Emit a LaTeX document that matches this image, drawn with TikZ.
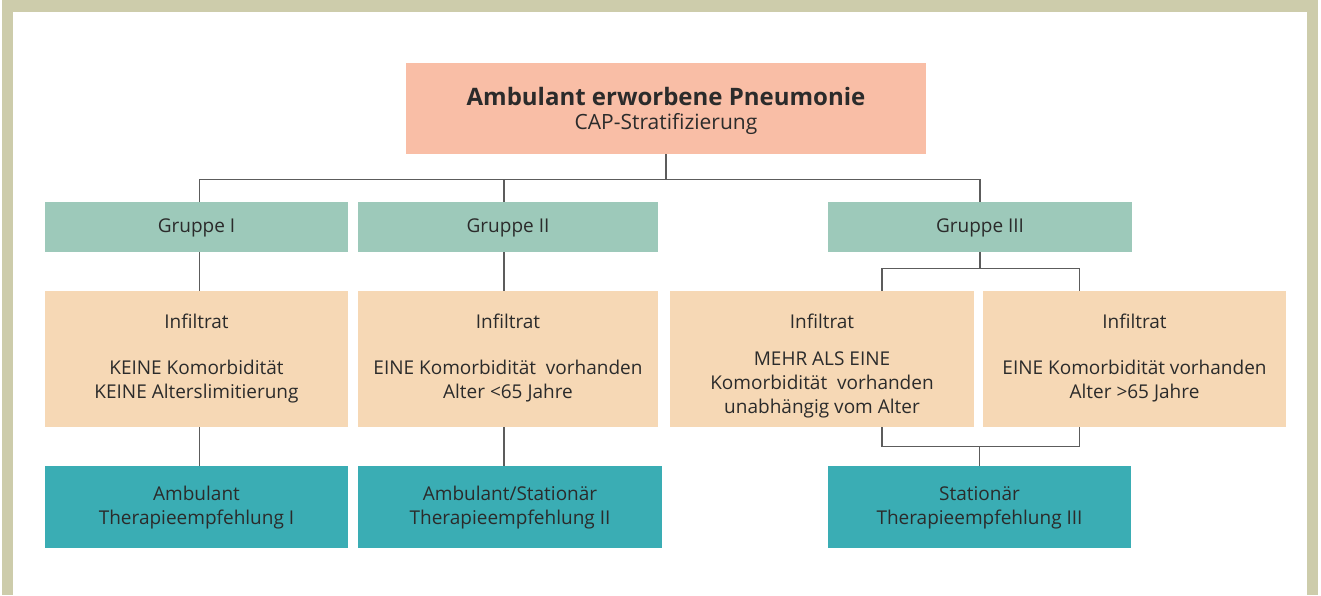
\documentclass[tikz,border=0pt]{standalone}
\usepackage{fontspec}
\setmainfont{Open Sans}
\usetikzlibrary{positioning,calc}
\definecolor{rahmen}{HTML}{CDCCAB}
\definecolor{kopffarbe}{HTML}{F9BEA6}
\definecolor{gruppenfarbe}{HTML}{9DC9BA}
\definecolor{befundfarbe}{HTML}{F6D8B5}
\definecolor{therapiefarbe}{HTML}{3AADB4}
\definecolor{schrift}{HTML}{2B2B2B}
\definecolor{linie}{HTML}{5C5C5C}
\newcommand{\hoch}[1]{\rule{0pt}{#1}}
\newcommand{\tief}[1]{\rule[-#1]{0pt}{#1}}
\tikzset{
  feld/.style={inner sep=0pt,align=center,text=schrift,font=\fontsize{19}{24}\selectfont},
  kopf/.style={feld,fill=kopffarbe,minimum width=520pt,minimum height=91pt},
  gruppe/.style={feld,fill=gruppenfarbe,minimum height=50pt},
  befund/.style={feld,fill=befundfarbe,minimum height=136pt},
  therapie/.style={feld,fill=therapiefarbe,minimum height=82pt},
  verbindung/.style={draw=linie,line width=1.1pt}
}

\begin{document}
\begin{tikzpicture}[x=1pt,y=-1pt]
	\useasboundingbox (0,0) rectangle (1321,595);
	\fill[rahmen] (2,0) rectangle (1318,12);
	\fill[rahmen] (2,0) rectangle (13,595);
	\fill[rahmen] (1307,0) rectangle (1318,595);

	\node[kopf] (kopf) at (666,108.5) {\hoch{24pt}{\fontsize{24}{24}\selectfont\bfseries Ambulant erworbene Pneumonie}\\{\fontsize{21}{24}\selectfont CAP-Stratifizierung}\tief{5pt}};

	\node[gruppe,minimum width=303pt] (g1) at (196.5,227) {\hoch{16pt}Gruppe I\tief{4pt}};
	\node[gruppe,minimum width=300pt] (g2) at (508,227) {\hoch{16pt}Gruppe II\tief{4pt}};
	\node[gruppe,minimum width=304pt] (g3) at (980,227) {\hoch{16pt}Gruppe III\tief{4pt}};

	\node[befund,minimum width=303pt] (b1) at (196.5,359) {\hoch{18pt}Infiltrat\\[22pt]KEINE Komorbidität\\KEINE Alterslimitierung\tief{10pt}};
	\node[befund,minimum width=300pt] (b2) at (508,359) {\hoch{18pt}Infiltrat\\[22pt]EINE Komorbidität\ \ vorhanden\\Alter <65 Jahre\tief{10pt}};
	\node[befund,minimum width=304pt] (b3) at (822,359) {\hoch{30pt}Infiltrat\\[13pt]MEHR ALS EINE\\Komorbidität\ \ vorhanden\\unabhängig vom Alter\tief{7pt}};
	\node[befund,minimum width=303pt] (b4) at (1134.5,359) {\hoch{18pt}Infiltrat\\[22pt]EINE Komorbidität vorhanden\\Alter >65 Jahre\tief{10pt}};

	\node[therapie,minimum width=303pt] (t1) at (196.5,507) {\hoch{16pt}Ambulant\\Therapieempfehlung I\tief{4pt}};
	\node[therapie,minimum width=304pt] (t2) at (510,507) {\hoch{16pt}Ambulant/Stationär\\Therapieempfehlung II\tief{4pt}};
	\node[therapie,minimum width=303pt] (t3) at (979.5,507) {\hoch{16pt}Stationär\\Therapieempfehlung III\tief{4pt}};

	\draw[verbindung] (kopf.south) -- ++(0,25) coordinate (bus);
	\draw[verbindung] ([xshift=3pt]g1.north) |- (bus) -| (g3.north);
	\draw[verbindung] ([xshift=-4pt]g2.north) -- ([xshift=-4pt]g2.north |- bus);
	\draw[verbindung] ([xshift=3pt]g1.south) -- ([xshift=3pt]b1.north);
	\draw[verbindung] ([xshift=-4pt]g2.south) -- ([xshift=-4pt]b2.north);
	\draw[verbindung] (g3.south) -- ++(0,16) coordinate (gabel);
	\draw[verbindung] ([xshift=60pt]b3.north) |- (gabel) -| ([xshift=-55pt]b4.north);
	\draw[verbindung] ([xshift=3pt]b1.south) -- ([xshift=3pt]t1.north);
	\draw[verbindung] ([xshift=-4pt]b2.south) -- ([xshift=-4pt]b2.south |- t2.north);
	\draw[verbindung] (t3.north) -- ++(0,-19) coordinate (knoten);
	\draw[verbindung] ([xshift=60pt]b3.south) |- (knoten) -| ([xshift=-55pt]b4.south);
\end{tikzpicture}
\end{document}
